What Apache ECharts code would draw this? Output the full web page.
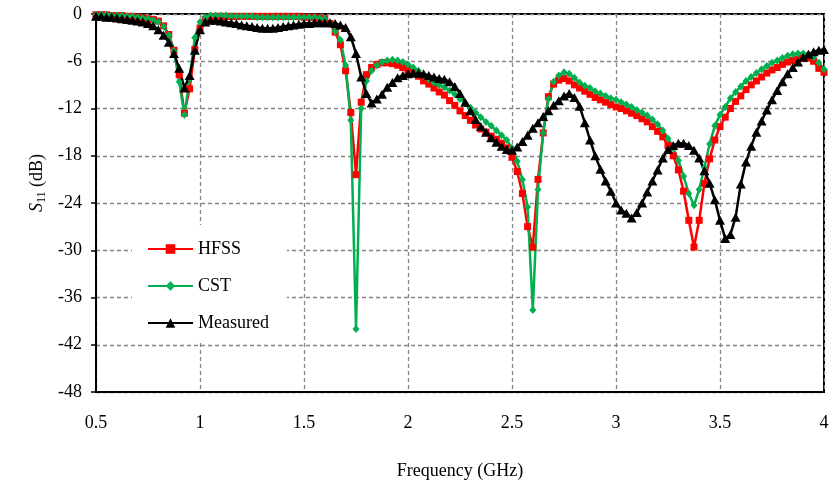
<!DOCTYPE html>
<html>
<head>
<meta charset="utf-8">
<title>S11 vs Frequency</title>
<script src="https://cdn.jsdelivr.net/npm/echarts@6/dist/echarts.min.js"></script>
<style>
  html, body { margin: 0; padding: 0; background: #fff; }
  #chart { width: 831px; height: 486px; }
</style>
</head>
<body>
<div id="chart"></div>
<script>
// Frequency sweep (GHz): start and step of the measurement grid
const freqStart = 0.5;
const freqStep = 0.025;

// Return loss S11 (dB), one value per sweep point, 0.5 → 4.0 GHz
const hfss = [
  -0.1,-0.1,-0.1,-0.2,-0.2,-0.2,-0.3,-0.3,-0.4,-0.5,-0.6,-0.7,-0.9,-1.5,-2.6,-4.6,-7.7,-12.6,-9.5,-4.5,-1.8,
  -0.7,-0.4,-0.3,-0.3,-0.3,-0.3,-0.3,-0.3,-0.3,-0.3,-0.3,-0.3,-0.3,-0.3,-0.3,-0.3,-0.3,-0.3,-0.3,-0.4,
  -0.4,-0.4,-0.5,-0.6,-1.2,-2.3,-3.9,-7.2,-12.5,-20.4,-11.2,-7.7,-6.8,-6.4,-6.2,-6.2,-6.3,-6.5,-6.8,-7.1,
  -7.4,-7.9,-8.5,-8.9,-9.4,-9.9,-10.3,-11.0,-11.6,-12.3,-12.9,-13.5,-14.1,-14.6,-15.0,-15.5,-15.9,-16.4,-17.0,-18.2,
  -20.0,-22.8,-27.0,-29.6,-21.0,-15.1,-10.5,-8.9,-8.4,-8.2,-8.5,-9.0,-9.4,-9.8,-10.2,-10.6,-10.9,-11.2,-11.5,-11.8,
  -12.0,-12.3,-12.6,-12.9,-13.3,-13.7,-14.3,-14.9,-15.6,-16.7,-18.0,-19.8,-22.5,-26.2,-29.6,-26.2,-21.5,-18.4,-16.0,-14.3,
  -13.1,-12.0,-11.1,-10.4,-9.6,-9.0,-8.5,-8.0,-7.5,-7.1,-6.8,-6.4,-6.1,-5.9,-5.7,-5.6,-5.6,-6.0,-6.9,-7.4
];

const cst = [
  -0.1,-0.1,-0.1,-0.2,-0.2,-0.2,-0.3,-0.3,-0.4,-0.5,-0.6,-0.8,-1.0,-1.6,-2.7,-4.7,-8.6,-12.8,-8.2,-3.0,-1.0,
  -0.4,-0.2,-0.2,-0.2,-0.2,-0.3,-0.3,-0.3,-0.3,-0.3,-0.4,-0.4,-0.4,-0.4,-0.4,-0.4,-0.4,-0.4,-0.4,-0.4,
  -0.4,-0.4,-0.5,-0.6,-1.2,-2.2,-3.3,-6.5,-13.5,-40.0,-12.0,-8.5,-7.2,-6.5,-6.1,-5.9,-5.8,-5.9,-6.1,-6.4,
  -6.8,-7.2,-7.8,-8.3,-8.7,-9.0,-9.3,-9.7,-10.2,-10.8,-11.3,-11.9,-12.5,-13.1,-13.7,-14.2,-14.8,-15.4,-16.0,-17.0,
  -18.7,-21.0,-24.5,-37.6,-22.3,-15.1,-10.8,-8.6,-7.8,-7.4,-7.6,-8.1,-8.7,-9.1,-9.4,-9.8,-10.1,-10.4,-10.7,-10.9,
  -11.2,-11.5,-11.8,-12.2,-12.5,-12.9,-13.4,-14.0,-14.8,-15.8,-17.0,-18.6,-20.6,-22.8,-24.3,-22.3,-19.5,-16.5,-14.2,-12.8,
  -11.8,-10.7,-9.9,-9.2,-8.5,-8.0,-7.5,-7.0,-6.6,-6.2,-5.9,-5.6,-5.3,-5.1,-5.0,-5.0,-5.1,-5.5,-6.2,-7.0
];

const measured = [
  -0.3,-0.3,-0.4,-0.4,-0.5,-0.6,-0.7,-0.8,-0.9,-1.0,-1.2,-1.5,-2.0,-2.7,-3.6,-5.0,-6.9,-9.4,-7.8,-4.6,-2.0,
  -1.0,-0.8,-0.8,-0.9,-1.0,-1.1,-1.2,-1.4,-1.5,-1.6,-1.7,-1.8,-1.8,-1.8,-1.7,-1.6,-1.5,-1.4,-1.3,-1.2,
  -1.2,-1.1,-1.1,-1.1,-1.1,-1.2,-1.4,-1.7,-2.9,-5.0,-8.0,-10.1,-11.3,-10.8,-10.2,-9.3,-8.7,-8.1,-7.8,-7.6,
  -7.5,-7.5,-7.6,-7.8,-8.0,-8.2,-8.3,-8.6,-9.2,-10.1,-11.2,-12.3,-13.4,-14.3,-15.0,-15.7,-16.3,-16.8,-17.2,-17.3,
  -16.9,-16.2,-15.4,-14.5,-13.8,-13.0,-12.3,-11.6,-11.0,-10.4,-10.1,-10.6,-11.7,-13.8,-16.0,-18.0,-19.7,-21.2,-22.5,-24.0,
  -24.9,-25.3,-25.9,-25.2,-24.0,-22.6,-21.2,-19.8,-18.3,-17.2,-16.7,-16.4,-16.4,-16.7,-17.3,-18.3,-19.9,-21.5,-23.6,-26.2,
  -28.5,-28.0,-25.8,-21.6,-18.8,-16.8,-15.0,-13.6,-12.2,-10.9,-9.7,-8.6,-7.6,-6.8,-6.1,-5.5,-5.1,-4.8,-4.6,-4.5
];

const seriesNames = ['HFSS', 'CST', 'Measured'];

const freqs = hfss.map((_, i) => +(freqStart + i * freqStep).toFixed(3));
const pairs = vals => vals.map((v, i) => [freqs[i], v]);

const FONT = "'Liberation Serif', 'Times New Roman', serif";
const gridLine = { show: true, lineStyle: { color: '#858585', type: [4, 3], width: 1.3 } };

const chart = echarts.init(document.getElementById('chart'), null, { renderer: 'canvas' });

function lineSeries(name, data, color, symbol, size) {
  return {
    name, type: 'line', data,
    symbol, symbolSize: size, showAllSymbol: true, clip: false,
    lineStyle: { color, width: 2.5 },
    itemStyle: { color, borderWidth: 0 },
    emphasis: { disabled: true },
    animation: false
  };
}

chart.setOption({
  backgroundColor: '#fff',
  animation: false,
  grid: {
    left: 96, right: 7, top: 14, bottom: 94,
    outerBoundsMode: 'none',
    containLabel: false,
    show: true, borderColor: '#000', borderWidth: 2, backgroundColor: 'transparent'
  },
  legend: {
    orient: 'vertical',
    left: 132, top: 225,
    padding: [15, 18, 8, 15],
    backgroundColor: '#fff',
    itemWidth: 45, itemHeight: 12, itemGap: 19,
    textStyle: { fontFamily: FONT, fontSize: 18, color: '#000', lineHeight: 18 },
    data: seriesNames
  },
  xAxis: {
    type: 'value', min: 0.5, max: 4, interval: 0.5,
    name: 'Frequency (GHz)', nameLocation: 'middle', nameGap: 70,
    nameTextStyle: { fontFamily: FONT, fontSize: 18, color: '#000' },
    axisLine: { show: true, onZero: false, lineStyle: { color: '#000', width: 2 } },
    axisTick: { show: false },
    axisLabel: { margin: 22, fontFamily: FONT, fontSize: 18, color: '#000' },
    splitLine: gridLine
  },
  yAxis: {
    type: 'value', min: -48, max: 0, interval: 6,
    axisLine: { show: true, onZero: false, lineStyle: { color: '#000', width: 2 } },
    axisTick: { show: true, inside: false, length: 5, lineStyle: { color: '#000', width: 1.5 } },
    axisLabel: { margin: 14, fontFamily: FONT, fontSize: 18, color: '#000' },
    splitLine: gridLine
  },
  graphic: [{
    type: 'text',
    x: 37, y: 183,
    rotation: Math.PI / 2,
    style: {
      text: '{i|S}{s|11}{n| (dB)}',
      align: 'center', verticalAlign: 'middle',
      fill: '#000',
      rich: {
        i: { fontFamily: FONT, fontSize: 18, fontStyle: 'italic', lineHeight: 22, verticalAlign: 'middle' },
        s: { fontFamily: FONT, fontSize: 12, lineHeight: 12, verticalAlign: 'bottom' },
        n: { fontFamily: FONT, fontSize: 18, lineHeight: 22, verticalAlign: 'middle' }
      }
    }
  }],
  series: [
    lineSeries('HFSS', pairs(hfss), '#ff0000', 'rect', [7, 7]),
    lineSeries('CST', pairs(cst), '#00b050', 'diamond', [7, 8]),
    lineSeries('Measured', pairs(measured), '#000000', 'triangle', [10, 9])
  ]
});
</script>
</body>
</html>
